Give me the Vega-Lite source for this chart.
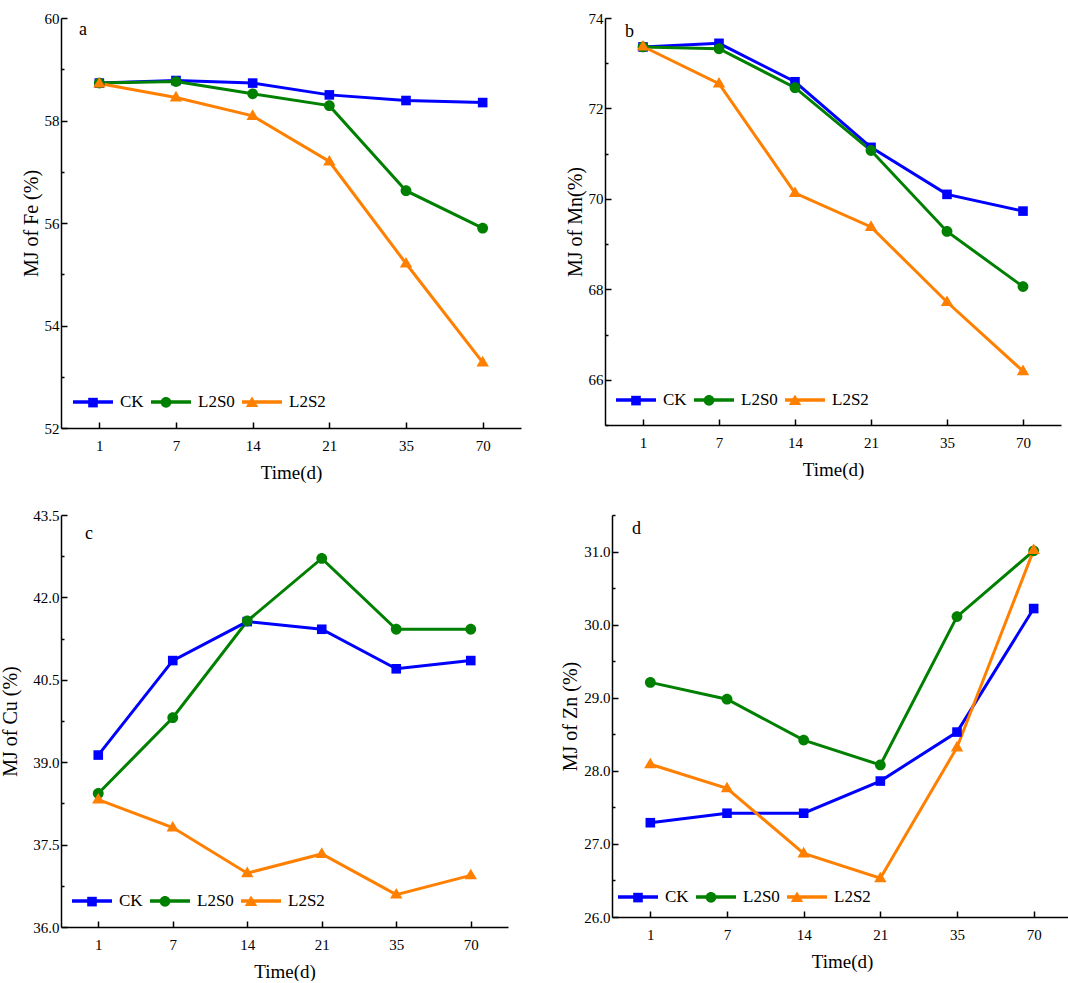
{
  "$schema": "https://vega.github.io/schema/vega-lite/v6.json",
  "background": "white",
  "padding": {"left": 0, "top": 11, "right": 0, "bottom": 0},
  "datasets": {
    "mj": [
      {"panel": "a", "time": 1, "series": "CK", "value": 58.73},
      {"panel": "a", "time": 7, "series": "CK", "value": 58.78},
      {"panel": "a", "time": 14, "series": "CK", "value": 58.73},
      {"panel": "a", "time": 21, "series": "CK", "value": 58.50},
      {"panel": "a", "time": 35, "series": "CK", "value": 58.39},
      {"panel": "a", "time": 70, "series": "CK", "value": 58.35},
      {"panel": "a", "time": 1, "series": "L2S0", "value": 58.73},
      {"panel": "a", "time": 7, "series": "L2S0", "value": 58.76},
      {"panel": "a", "time": 14, "series": "L2S0", "value": 58.52},
      {"panel": "a", "time": 21, "series": "L2S0", "value": 58.29},
      {"panel": "a", "time": 35, "series": "L2S0", "value": 56.63},
      {"panel": "a", "time": 70, "series": "L2S0", "value": 55.90},
      {"panel": "a", "time": 1, "series": "L2S2", "value": 58.72},
      {"panel": "a", "time": 7, "series": "L2S2", "value": 58.45},
      {"panel": "a", "time": 14, "series": "L2S2", "value": 58.09},
      {"panel": "a", "time": 21, "series": "L2S2", "value": 57.20},
      {"panel": "a", "time": 35, "series": "L2S2", "value": 55.21},
      {"panel": "a", "time": 70, "series": "L2S2", "value": 53.28},
      {"panel": "b", "time": 1, "series": "CK", "value": 73.36},
      {"panel": "b", "time": 7, "series": "CK", "value": 73.44},
      {"panel": "b", "time": 14, "series": "CK", "value": 72.59},
      {"panel": "b", "time": 21, "series": "CK", "value": 71.14},
      {"panel": "b", "time": 35, "series": "CK", "value": 70.10},
      {"panel": "b", "time": 70, "series": "CK", "value": 69.73},
      {"panel": "b", "time": 1, "series": "L2S0", "value": 73.36},
      {"panel": "b", "time": 7, "series": "L2S0", "value": 73.32},
      {"panel": "b", "time": 14, "series": "L2S0", "value": 72.46},
      {"panel": "b", "time": 21, "series": "L2S0", "value": 71.07},
      {"panel": "b", "time": 35, "series": "L2S0", "value": 69.28},
      {"panel": "b", "time": 70, "series": "L2S0", "value": 68.06},
      {"panel": "b", "time": 1, "series": "L2S2", "value": 73.37},
      {"panel": "b", "time": 7, "series": "L2S2", "value": 72.55},
      {"panel": "b", "time": 14, "series": "L2S2", "value": 70.13},
      {"panel": "b", "time": 21, "series": "L2S2", "value": 69.38},
      {"panel": "b", "time": 35, "series": "L2S2", "value": 67.72},
      {"panel": "b", "time": 70, "series": "L2S2", "value": 66.19},
      {"panel": "c", "time": 1, "series": "CK", "value": 39.13},
      {"panel": "c", "time": 7, "series": "CK", "value": 40.85},
      {"panel": "c", "time": 14, "series": "CK", "value": 41.56},
      {"panel": "c", "time": 21, "series": "CK", "value": 41.42},
      {"panel": "c", "time": 35, "series": "CK", "value": 40.70},
      {"panel": "c", "time": 70, "series": "CK", "value": 40.85},
      {"panel": "c", "time": 1, "series": "L2S0", "value": 38.43},
      {"panel": "c", "time": 7, "series": "L2S0", "value": 39.81},
      {"panel": "c", "time": 14, "series": "L2S0", "value": 41.57},
      {"panel": "c", "time": 21, "series": "L2S0", "value": 42.71},
      {"panel": "c", "time": 35, "series": "L2S0", "value": 41.42},
      {"panel": "c", "time": 70, "series": "L2S0", "value": 41.42},
      {"panel": "c", "time": 1, "series": "L2S2", "value": 38.32},
      {"panel": "c", "time": 7, "series": "L2S2", "value": 37.81},
      {"panel": "c", "time": 14, "series": "L2S2", "value": 36.98},
      {"panel": "c", "time": 21, "series": "L2S2", "value": 37.33},
      {"panel": "c", "time": 35, "series": "L2S2", "value": 36.59},
      {"panel": "c", "time": 70, "series": "L2S2", "value": 36.94},
      {"panel": "d", "time": 1, "series": "CK", "value": 27.29},
      {"panel": "d", "time": 7, "series": "CK", "value": 27.42},
      {"panel": "d", "time": 14, "series": "CK", "value": 27.42},
      {"panel": "d", "time": 21, "series": "CK", "value": 27.86},
      {"panel": "d", "time": 35, "series": "CK", "value": 28.53},
      {"panel": "d", "time": 70, "series": "CK", "value": 30.22},
      {"panel": "d", "time": 1, "series": "L2S0", "value": 29.21},
      {"panel": "d", "time": 7, "series": "L2S0", "value": 28.98},
      {"panel": "d", "time": 14, "series": "L2S0", "value": 28.42},
      {"panel": "d", "time": 21, "series": "L2S0", "value": 28.08},
      {"panel": "d", "time": 35, "series": "L2S0", "value": 30.11},
      {"panel": "d", "time": 70, "series": "L2S0", "value": 31.01},
      {"panel": "d", "time": 1, "series": "L2S2", "value": 28.09},
      {"panel": "d", "time": 7, "series": "L2S2", "value": 27.76},
      {"panel": "d", "time": 14, "series": "L2S2", "value": 26.87},
      {"panel": "d", "time": 21, "series": "L2S2", "value": 26.53},
      {"panel": "d", "time": 35, "series": "L2S2", "value": 28.32},
      {"panel": "d", "time": 70, "series": "L2S2", "value": 31.02}
    ]
  },
  "data": {"name": "mj"},
  "spacing": 26,
  "resolve": {"scale": {"color": "independent", "fill": "independent", "shape": "independent", "x": "independent", "y": "independent"}, "legend": {"color": "independent", "fill": "independent", "shape": "independent"}},
  "vconcat": [
    {
      "spacing": 44,
      "resolve": {"scale": {"color": "independent", "fill": "independent", "shape": "independent", "x": "independent", "y": "independent"}, "legend": {"color": "independent", "fill": "independent", "shape": "independent"}},
      "hconcat": [
        {
          "width": 460, "height": 410,
          "title": {"text": "a", "anchor": "start", "frame": "group", "dx": 18, "dy": 28, "offset": 0},
          "transform": [{"filter": "datum.panel === 'a'"}],
          "encoding": {
            "x": {"field": "time", "type": "ordinal", "scale": {"type": "point", "padding": 0.5}, "axis": {"title": "Time(d)"}},
            "y": {"field": "value", "type": "quantitative", "scale": {"domain": [52, 60], "nice": false, "zero": false},
                  "axis": {"title": "MJ of Fe (%)", "values": [52, 53, 54, 55, 56, 57, 58, 59, 60], "labelExpr": "datum.value % 2 === 0 ? datum.label : ''",
                           "tickSize": {"condition": {"test": "datum.value % 2 === 0", "value": -6}, "value": -3}}}
          },
          "layer": [
            {"mark": {"type": "line", "strokeWidth": 3},
             "encoding": {
               "color": {"field": "series", "type": "nominal", "scale": {"range": ["#0000ff", "#008000", "#ff8000"]},
                         "legend": {"orient": "none", "legendX": 10, "legendY": 362, "direction": "horizontal", "title": null,
                                    "symbolType": "M-1,0H1", "symbolSize": 1600, "symbolStrokeWidth": 3.5,
                                    "labelFont": "Liberation Serif", "labelFontSize": 17, "labelColor": "black", "labelOffset": 5, "columnPadding": 0}}
             }},
            {"mark": {"type": "point", "filled": true, "opacity": 1, "size": 1600},
             "encoding": {
               "fill": {"field": "series", "type": "nominal", "scale": {"domain": ["CK", "L2S0", "L2S2"], "range": ["#0000ff", "#008000", "#ff8000"]},
                        "legend": {"orient": "none", "legendX": 10, "legendY": 362, "direction": "horizontal", "title": null, "symbolSize": 1600,
                                   "labelFont": "Liberation Serif", "labelFontSize": 17, "labelOpacity": 0, "labelOffset": 5, "columnPadding": 0,
                                   "symbolStrokeWidth": 3.5, "symbolStrokeColor": "transparent"}},
               "shape": {"field": "series", "type": "nominal", "scale": {"domain": ["CK", "L2S0", "L2S2"], "range": ["M-0.24,-0.24H0.24V0.24H-0.24Z", "M0.27,0A0.27,0.27 0 1,1 -0.27,0A0.27,0.27 0 1,1 0.27,0Z", "M0,-0.33L0.31,0.2L-0.31,0.2Z"]},
                         "legend": {"orient": "none", "legendX": 10, "legendY": 362, "direction": "horizontal", "title": null, "symbolSize": 1600,
                                    "labelFont": "Liberation Serif", "labelFontSize": 17, "labelOpacity": 0, "labelOffset": 5, "columnPadding": 0,
                                    "symbolStrokeWidth": 3.5, "symbolStrokeColor": "transparent"}}
             }}
          ]
        },
        {
          "width": 456, "height": 407,
          "title": {"text": "b", "anchor": "start", "frame": "group", "dx": 20, "dy": 30, "offset": 0},
          "transform": [{"filter": "datum.panel === 'b'"}],
          "encoding": {
            "x": {"field": "time", "type": "ordinal", "scale": {"type": "point", "padding": 0.5}, "axis": {"title": "Time(d)"}},
            "y": {"field": "value", "type": "quantitative", "scale": {"domain": [65, 74], "nice": false, "zero": false},
                  "axis": {"title": "MJ of Mn(%)", "values": [65, 66, 67, 68, 69, 70, 71, 72, 73, 74], "labelExpr": "datum.value % 2 === 0 ? datum.label : ''",
                           "tickSize": {"condition": {"test": "datum.value % 2 === 0", "value": -6}, "value": -3}}}
          },
          "layer": [
            {"mark": {"type": "line", "strokeWidth": 3},
             "encoding": {
               "color": {"field": "series", "type": "nominal", "scale": {"range": ["#0000ff", "#008000", "#ff8000"]},
                         "legend": {"orient": "none", "legendX": 9, "legendY": 360, "direction": "horizontal", "title": null,
                                    "symbolType": "M-1,0H1", "symbolSize": 1600, "symbolStrokeWidth": 3.5,
                                    "labelFont": "Liberation Serif", "labelFontSize": 17, "labelColor": "black", "labelOffset": 5, "columnPadding": 0}}
             }},
            {"mark": {"type": "point", "filled": true, "opacity": 1, "size": 1600},
             "encoding": {
               "fill": {"field": "series", "type": "nominal", "scale": {"domain": ["CK", "L2S0", "L2S2"], "range": ["#0000ff", "#008000", "#ff8000"]},
                        "legend": {"orient": "none", "legendX": 9, "legendY": 360, "direction": "horizontal", "title": null, "symbolSize": 1600,
                                   "labelFont": "Liberation Serif", "labelFontSize": 17, "labelOpacity": 0, "labelOffset": 5, "columnPadding": 0,
                                   "symbolStrokeWidth": 3.5, "symbolStrokeColor": "transparent"}},
               "shape": {"field": "series", "type": "nominal", "scale": {"domain": ["CK", "L2S0", "L2S2"], "range": ["M-0.24,-0.24H0.24V0.24H-0.24Z", "M0.27,0A0.27,0.27 0 1,1 -0.27,0A0.27,0.27 0 1,1 0.27,0Z", "M0,-0.33L0.31,0.2L-0.31,0.2Z"]},
                         "legend": {"orient": "none", "legendX": 9, "legendY": 360, "direction": "horizontal", "title": null, "symbolSize": 1600,
                                    "labelFont": "Liberation Serif", "labelFontSize": 17, "labelOpacity": 0, "labelOffset": 5, "columnPadding": 0,
                                    "symbolStrokeWidth": 3.5, "symbolStrokeColor": "transparent"}}
             }}
          ]
        }
      ]
    },
    {
      "spacing": 52,
      "resolve": {"scale": {"color": "independent", "fill": "independent", "shape": "independent", "x": "independent", "y": "independent"}, "legend": {"color": "independent", "fill": "independent", "shape": "independent"}},
      "hconcat": [
        {
          "width": 447, "height": 412,
          "title": {"text": "c", "anchor": "start", "frame": "group", "dx": 24, "dy": 35, "offset": 0},
          "transform": [{"filter": "datum.panel === 'c'"}],
          "encoding": {
            "x": {"field": "time", "type": "ordinal", "scale": {"type": "point", "padding": 0.5}, "axis": {"title": "Time(d)"}},
            "y": {"field": "value", "type": "quantitative", "scale": {"domain": [36, 43.5], "nice": false, "zero": false},
                  "axis": {"title": "MJ of Cu (%)", "format": ".1f", "titlePadding": 12, "values": [36, 36.75, 37.5, 38.25, 39, 39.75, 40.5, 41.25, 42, 42.75, 43.5],
                           "labelExpr": "abs((datum.value - 36) / 1.5 - round((datum.value - 36) / 1.5)) < 0.01 ? datum.label : ''",
                           "tickSize": {"condition": {"test": "abs((datum.value - 36) / 1.5 - round((datum.value - 36) / 1.5)) < 0.01", "value": -6}, "value": -3}}}
          },
          "layer": [
            {"mark": {"type": "line", "strokeWidth": 3},
             "encoding": {
               "color": {"field": "series", "type": "nominal", "scale": {"range": ["#0000ff", "#008000", "#ff8000"]},
                         "legend": {"orient": "none", "legendX": 9, "legendY": 364, "direction": "horizontal", "title": null,
                                    "symbolType": "M-1,0H1", "symbolSize": 1600, "symbolStrokeWidth": 3.5,
                                    "labelFont": "Liberation Serif", "labelFontSize": 17, "labelColor": "black", "labelOffset": 5, "columnPadding": 0}}
             }},
            {"mark": {"type": "point", "filled": true, "opacity": 1, "size": 1600},
             "encoding": {
               "fill": {"field": "series", "type": "nominal", "scale": {"domain": ["CK", "L2S0", "L2S2"], "range": ["#0000ff", "#008000", "#ff8000"]},
                        "legend": {"orient": "none", "legendX": 9, "legendY": 364, "direction": "horizontal", "title": null, "symbolSize": 1600,
                                   "labelFont": "Liberation Serif", "labelFontSize": 17, "labelOpacity": 0, "labelOffset": 5, "columnPadding": 0,
                                   "symbolStrokeWidth": 3.5, "symbolStrokeColor": "transparent"}},
               "shape": {"field": "series", "type": "nominal", "scale": {"domain": ["CK", "L2S0", "L2S2"], "range": ["M-0.24,-0.24H0.24V0.24H-0.24Z", "M0.27,0A0.27,0.27 0 1,1 -0.27,0A0.27,0.27 0 1,1 0.27,0Z", "M0,-0.33L0.31,0.2L-0.31,0.2Z"]},
                         "legend": {"orient": "none", "legendX": 9, "legendY": 364, "direction": "horizontal", "title": null, "symbolSize": 1600,
                                    "labelFont": "Liberation Serif", "labelFontSize": 17, "labelOpacity": 0, "labelOffset": 5, "columnPadding": 0,
                                    "symbolStrokeWidth": 3.5, "symbolStrokeColor": "transparent"}}
             }}
          ]
        },
        {
          "width": 460, "height": 402,
          "title": {"text": "d", "anchor": "start", "frame": "group", "dx": 20, "dy": 24, "offset": 0},
          "transform": [{"filter": "datum.panel === 'd'"}],
          "encoding": {
            "x": {"field": "time", "type": "ordinal", "scale": {"type": "point", "padding": 0.5}, "axis": {"title": "Time(d)"}},
            "y": {"field": "value", "type": "quantitative", "scale": {"domain": [26, 31.5], "nice": false, "zero": false},
                  "axis": {"title": "MJ of Zn (%)", "values": [26, 26.5, 27, 27.5, 28, 28.5, 29, 29.5, 30, 30.5, 31, 31.5], "labelExpr": "datum.value % 1 === 0 ? datum.label : ''",
                           "tickSize": {"condition": {"test": "datum.value % 1 === 0", "value": -6}, "value": -3}}}
          },
          "layer": [
            {"mark": {"type": "line", "strokeWidth": 3},
             "encoding": {
               "color": {"field": "series", "type": "nominal", "scale": {"range": ["#0000ff", "#008000", "#ff8000"]},
                         "legend": {"orient": "none", "legendX": 4, "legendY": 360, "direction": "horizontal", "title": null,
                                    "symbolType": "M-1,0H1", "symbolSize": 1600, "symbolStrokeWidth": 3.5,
                                    "labelFont": "Liberation Serif", "labelFontSize": 17, "labelColor": "black", "labelOffset": 5, "columnPadding": 0}}
             }},
            {"mark": {"type": "point", "filled": true, "opacity": 1, "size": 1600},
             "encoding": {
               "fill": {"field": "series", "type": "nominal", "scale": {"domain": ["CK", "L2S0", "L2S2"], "range": ["#0000ff", "#008000", "#ff8000"]},
                        "legend": {"orient": "none", "legendX": 4, "legendY": 360, "direction": "horizontal", "title": null, "symbolSize": 1600,
                                   "labelFont": "Liberation Serif", "labelFontSize": 17, "labelOpacity": 0, "labelOffset": 5, "columnPadding": 0,
                                   "symbolStrokeWidth": 3.5, "symbolStrokeColor": "transparent"}},
               "shape": {"field": "series", "type": "nominal", "scale": {"domain": ["CK", "L2S0", "L2S2"], "range": ["M-0.24,-0.24H0.24V0.24H-0.24Z", "M0.27,0A0.27,0.27 0 1,1 -0.27,0A0.27,0.27 0 1,1 0.27,0Z", "M0,-0.33L0.31,0.2L-0.31,0.2Z"]},
                         "legend": {"orient": "none", "legendX": 4, "legendY": 360, "direction": "horizontal", "title": null, "symbolSize": 1600,
                                    "labelFont": "Liberation Serif", "labelFontSize": 17, "labelOpacity": 0, "labelOffset": 5, "columnPadding": 0,
                                    "symbolStrokeWidth": 3.5, "symbolStrokeColor": "transparent"}}
             }}
          ]
        }
      ]
    }
  ],
  "config": {
    "view": {"stroke": null},
    "font": "Liberation Serif",
    "title": {"font": "Liberation Serif", "fontSize": 18, "fontWeight": "normal", "color": "black", "baseline": "alphabetic"},
    "axis": {
      "labelFont": "Liberation Serif", "labelFontSize": 15, "labelColor": "black",
      "titleFont": "Liberation Serif", "titleFontSize": 19, "titleFontWeight": "normal", "titleColor": "black",
      "domainColor": "black", "domainWidth": 1.5, "tickColor": "black", "tickWidth": 1.5,
      "grid": false
    },
    "axisX": {"labelAngle": 0, "tickSize": -6, "titlePadding": 10, "labelPadding": 16},
    "axisY": {"titleFontSize": 20, "titlePadding": 3, "labelPadding": 8}
  }
}
